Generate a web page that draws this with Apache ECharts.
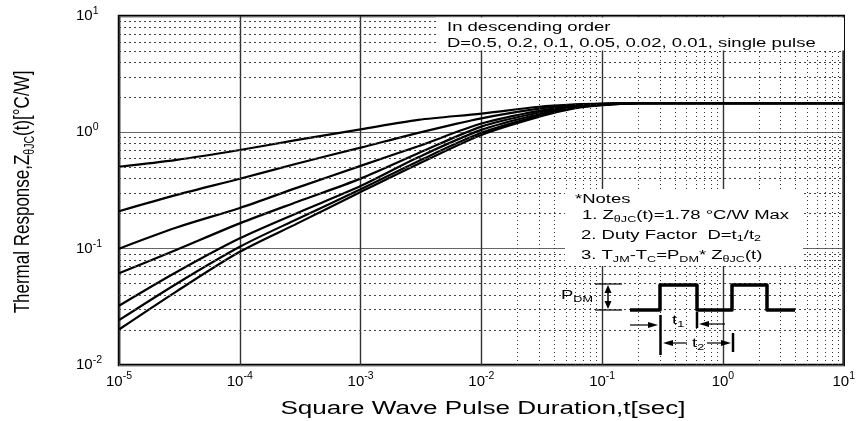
<!DOCTYPE html>
<html>
<head>
<meta charset="utf-8">
<script src="https://cdn.jsdelivr.net/npm/echarts@6/dist/echarts.min.js"></script>
<style>
  html, body { margin: 0; padding: 0; background: #fff; }
  #chart { width: 858px; height: 421px; }
</style>
</head>
<body>
<div id="chart"></div>
<script>
// Pulse durations (s) and transient thermal impedance Z(t) in °C/W for each duty factor
const pulseDurations = [1e-5, 3e-5, 1e-4, 3e-4, 1e-3, 3e-3, 1e-2, 3e-2, 6e-2, 1e-1, 2e-1, 1, 10];
const dutyLabels = ['D=0.5', 'D=0.2', 'D=0.1', 'D=0.05', 'D=0.02', 'D=0.01', 'single pulse'];
const zD050 = [0.506, 0.58, 0.705, 0.86, 1.06, 1.28, 1.45, 1.66, 1.74, 1.77, 1.78, 1.78, 1.78];
const zD020 = [0.21, 0.29, 0.399, 0.54, 0.738, 0.99, 1.32, 1.60, 1.72, 1.76, 1.78, 1.78, 1.78];
const zD010 = [0.1, 0.152, 0.224, 0.335, 0.515, 0.76, 1.19, 1.53, 1.69, 1.75, 1.78, 1.78, 1.78];
const zD005 = [0.0614, 0.098, 0.165, 0.253, 0.40, 0.66, 1.12, 1.48, 1.67, 1.74, 1.78, 1.78, 1.78];
const zD002 = [0.0323, 0.063, 0.1227, 0.203, 0.345, 0.61, 1.05, 1.43, 1.65, 1.73, 1.78, 1.78, 1.78];
const zD001 = [0.0243, 0.05, 0.1038, 0.18, 0.3236, 0.565, 0.99, 1.39, 1.63, 1.72, 1.78, 1.78, 1.78];
const zSingle = [0.0202, 0.043, 0.094, 0.165, 0.307, 0.535, 0.95, 1.36, 1.61, 1.71, 1.78, 1.78, 1.78];

// Axis ranges and minor grid steps (log decades)
const xDecades = [-5, -4, -3, -2, -1, 0];
const yDecades = [-2, -1, 0];
const minorSteps = [2, 3, 4, 5, 6, 7, 8, 9];

const FONT = '"Liberation Sans", Arial, Helvetica, sans-serif';
const STRETCH = 1.48;

const curves = [zD050, zD020, zD010, zD005, zD002, zD001, zSingle];

const expLabel = v => '{b|10}{s|' + Math.round(Math.log10(v)) + '}';
const tickRich = {
  b: { fontSize: 15, fontFamily: FONT, color: '#000', lineHeight: 21 },
  s: { fontSize: 10.5, fontFamily: FONT, color: '#000', lineHeight: 9, verticalAlign: 'top' }
};

const minorX = [];
xDecades.forEach(n => minorSteps.forEach(k => minorX.push({
  xAxis: k * Math.pow(10, n),
  lineStyle: { type: [1, 3], color: '#333', width: 1 }
})));
const minorY = [];
yDecades.forEach(n => minorSteps.forEach(k => minorY.push({
  yAxis: k * Math.pow(10, n),
  lineStyle: { type: [2, 3], color: '#444', width: 1 }
})));

const subRich = {
  sub: { fontSize: 8.5, fontFamily: FONT, color: '#000', verticalAlign: 'bottom', lineHeight: 8 }
};
function note(text, x, y, extra) {
  return Object.assign({
    type: 'text', x: x, y: y, scaleX: STRETCH, z: 101,
    style: {
      text: text, x: 0, y: 0, fill: '#000',
      fontSize: 12.5, fontFamily: FONT,
      align: 'left', textAlign: 'left',
      verticalAlign: 'middle', textVerticalAlign: 'middle',
      lineHeight: 16,
      rich: Object.assign({ n: { fontSize: 12.5, fontFamily: FONT, color: '#000', lineHeight: 16 } }, subRich)
    }
  }, extra || {});
}
function seg(x1, y1, x2, y2, w) {
  return { type: 'line', z: 101, shape: { x1, y1, x2, y2 }, style: { stroke: '#000', lineWidth: w } };
}
function head(points) {
  return { type: 'polygon', z: 101, shape: { points }, style: { fill: '#000' } };
}

const graphics = [
  // white panels behind the legend text and the notes
  { type: 'rect', z: 100, shape: { x: 436, y: 17.5, width: 408, height: 33 }, style: { fill: '#fff' } },
  { type: 'rect', z: 100, shape: { x: 565, y: 189, width: 238, height: 77 }, style: { fill: '#fff' } },
  note('In descending order', 447, 28),
  note('D=0.5, 0.2, 0.1, 0.05, 0.02, 0.01, single pulse', 447, 43.5),
  note('*Notes', 575, 200),
  note('{n|1. Z}{sub|θJC}{n|(t)=1.78 °C/W Max}', 582, 216),
  note('{n|2. Duty Factor  D=t}{sub|1}{n|/t}{sub|2}', 581, 235.5),
  note('{n|3. T}{sub|JM}{n|-T}{sub|C}{n|=P}{sub|DM}{n|* Z}{sub|θJC}{n|(t)}', 581, 256),
  note('{n|P}{sub|DM}', 561, 296),
  note('{n|t}{sub|1}', 672, 321),
  note('{n|t}{sub|2}', 692, 344),
  // pulse train
  {
    type: 'polyline', z: 101,
    shape: { points: [[630, 310], [660, 310], [660, 285], [697, 285], [697, 310], [732, 310], [732, 285], [767, 285], [767, 310], [795, 310]] },
    style: { stroke: '#000', lineWidth: 3.5, fill: null, lineJoin: 'round' }
  },
  // P_DM height marker
  seg(595, 284, 622, 284, 1.2),
  seg(595, 310, 622, 310, 1.2),
  seg(608, 290, 608, 304, 1.5),
  head([[608, 285], [604.5, 293], [611.5, 293]]),
  head([[608, 309], [604.5, 301], [611.5, 301]]),
  // t1 marker
  seg(660.5, 315, 660.5, 355, 2.5),
  seg(697, 312, 697, 328, 2.5),
  seg(630, 325, 650, 325, 1.2),
  head([[658, 325], [648, 322], [648, 328]]),
  seg(705, 324, 725, 324, 1.2),
  head([[699, 324], [709, 321], [709, 327]]),
  // t2 marker
  seg(733, 333, 733, 352, 2.5),
  seg(671, 343, 687, 343, 1.2),
  head([[663, 343], [673, 340], [673, 346]]),
  seg(707, 343, 724, 343, 1.2),
  head([[731, 343], [721, 340], [721, 346]]),
  // axis titles
  {
    type: 'text', x: 483, y: 409, scaleX: 1.45, z: 101,
    style: {
      text: 'Square Wave Pulse Duration,t[sec]', x: 0, y: 0, fill: '#000',
      fontSize: 18, fontFamily: FONT,
      align: 'center', textAlign: 'center', verticalAlign: 'middle', textVerticalAlign: 'middle'
    }
  },
  {
    type: 'text', x: 23, y: 192, rotation: Math.PI / 2, scaleY: 1.35, z: 101,
    style: {
      text: '{t|Thermal Response,Z}{u|θJC}{t|(t)[°C/W]}', x: 0, y: 0, fill: '#000',
      fontSize: 17, fontFamily: FONT,
      align: 'center', textAlign: 'center', verticalAlign: 'middle', textVerticalAlign: 'middle',
      rich: {
        t: { fontSize: 17, fontFamily: FONT, color: '#000', lineHeight: 22 },
        u: { fontSize: 10.5, fontFamily: FONT, color: '#000', lineHeight: 10, verticalAlign: 'bottom' }
      }
    }
  }
];

const chart = echarts.init(document.getElementById('chart'), null, { renderer: 'canvas' });
chart.setOption({
  animation: false,
  backgroundColor: '#fff',
  grid: { left: 119, right: 13, top: 16, bottom: 56, show: true, borderColor: '#000', borderWidth: 2.5, backgroundColor: 'transparent' },
  xAxis: {
    type: 'log', logBase: 10, min: 1e-5, max: 10, splitNumber: 6,
    axisLine: { show: false }, axisTick: { show: false },
    axisLabel: { formatter: expLabel, margin: 6, rich: tickRich, showMinLabel: true, showMaxLabel: true },
    splitLine: { show: true, lineStyle: { color: '#333', width: 1.4 } }
  },
  yAxis: {
    type: 'log', logBase: 10, min: 1e-2, max: 10, splitNumber: 3,
    axisLine: { show: false }, axisTick: { show: false },
    axisLabel: { formatter: expLabel, margin: 43, align: 'left', rich: tickRich, showMinLabel: true, showMaxLabel: true },
    splitLine: { show: true, lineStyle: { color: '#666', width: 1 } }
  },
  series: [{
    type: 'line', name: 'minor grid', data: [], silent: true, z: 1,
    markLine: {
      silent: true, symbol: ['none', 'none'], label: { show: false },
      emphasis: { disabled: true },
      data: minorX.concat(minorY)
    }
  }].concat(curves.map((arr, i) => ({
    type: 'line', name: dutyLabels[i],
    data: pulseDurations.map((t, j) => [t, arr[j]]),
    symbol: 'none', showSymbol: false, smooth: 0.3, z: 3,
    lineStyle: { color: '#000', width: 2.2 }
  }))),
  graphic: graphics
});
</script>
</body>
</html>
